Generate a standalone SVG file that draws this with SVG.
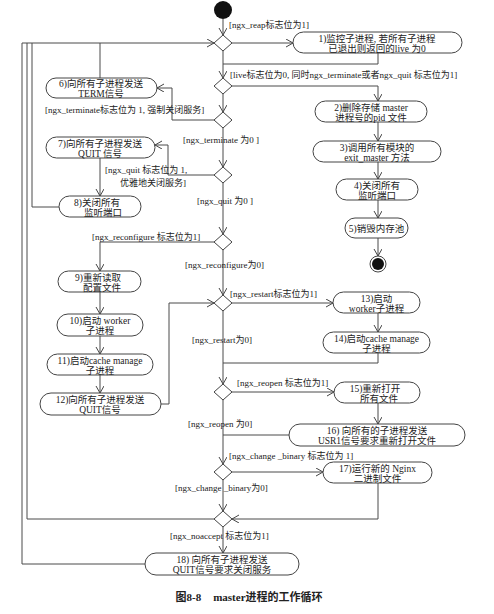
<svg xmlns="http://www.w3.org/2000/svg" width="494" height="614" viewBox="0 0 494 614">
<defs>
<marker id="arr" markerWidth="8" markerHeight="9" refX="7" refY="4" orient="auto" markerUnits="userSpaceOnUse">
<path d="M0,0 L7,4 L0,8" fill="none" stroke="#444" stroke-width="1"/>
</marker>
<style>
.n rect{fill:#fff;stroke:#444;stroke-width:1}
.n text{font-family:"Liberation Serif","Noto Sans CJK SC",serif;font-size:9.5px;fill:#222;text-anchor:middle}
.d{fill:#fff;stroke:#444;stroke-width:1}
.c path{fill:none;stroke:#4a4a4a;stroke-width:1}
.c .a{marker-end:url(#arr)}
.l{font-family:"Liberation Serif","Noto Sans CJK SC",serif;font-size:9px;fill:#222}
.cap{font-family:"Liberation Serif","Noto Sans CJK SC",serif;font-size:11px;font-weight:bold;fill:#222;text-anchor:middle}
</style>
</defs>
<rect width="494" height="614" fill="#fff"/>

<g id="connectors" class="c">
<path class="a" d="M223,19 V35"/>
<path class="a" d="M232,43 H293"/>
<path d="M378,53 V64 H223"/>
<path class="a" d="M223,51 V78"/>
<path class="a" d="M232,86 H378 V101"/>
<path class="a" d="M378,122 V141"/>
<path class="a" d="M378,162 V179"/>
<path class="a" d="M378,200 V218"/>
<path class="a" d="M378,238 V256"/>
<path class="a" d="M223,94 V112"/>
<path class="a" d="M214,120 H172 V88 H157"/>
<path d="M100,78 V43"/>
<path class="a" d="M22,43 H214"/>
<path class="a" d="M223,128 V167"/>
<path class="a" d="M214,175 H168 V145 H155"/>
<path class="a" d="M100,158 V196"/>
<path d="M59,207 H32 V43"/>
<path class="a" d="M223,183 V234"/>
<path class="a" d="M214,242 H100 V271"/>
<path class="a" d="M100,292 V314"/>
<path class="a" d="M100,336 V354"/>
<path class="a" d="M100,375 V393"/>
<path class="a" d="M161,404 H169 V303 H214"/>
<path class="a" d="M223,250 V295"/>
<path class="a" d="M232,303 H333"/>
<path class="a" d="M378,313 V332"/>
<path d="M378,353 V363 H223"/>
<path class="a" d="M223,311 V384"/>
<path class="a" d="M232,392 H334"/>
<path class="a" d="M378,403 V424"/>
<path d="M289,435 H223"/>
<path class="a" d="M223,400 V464"/>
<path class="a" d="M232,472 H323"/>
<path class="a" d="M378,483 V519 H232"/>
<path class="a" d="M223,480 V511"/>
<path d="M214,519 H27 V43"/>
<path class="a" d="M223,527 V553"/>
<path d="M145,564 H22 V43"/>
</g>

<g id="start"><circle cx="223" cy="10" r="9" fill="#111"/></g>
<g id="end"><circle cx="378" cy="264" r="8" fill="#fff" stroke="#444"/><circle cx="378" cy="264" r="6" fill="#111"/></g>

<g id="d1"><polygon class="d" points="223,35 232,43 223,51 214,43"/></g>
<g id="d2"><polygon class="d" points="223,78 232,86 223,94 214,86"/></g>
<g id="d3"><polygon class="d" points="223,112 232,120 223,128 214,120"/></g>
<g id="d4"><polygon class="d" points="223,167 232,175 223,183 214,175"/></g>
<g id="d5"><polygon class="d" points="223,234 232,242 223,250 214,242"/></g>
<g id="d6"><polygon class="d" points="223,295 232,303 223,311 214,303"/></g>
<g id="d7"><polygon class="d" points="223,384 232,392 223,400 214,392"/></g>
<g id="d8"><polygon class="d" points="223,464 232,472 223,480 214,472"/></g>
<g id="d9"><polygon class="d" points="223,511 232,519 223,527 214,519"/></g>

<g id="n1" class="n"><rect x="293" y="32" width="169" height="21" rx="10.5"/><text x="377" y="41.5">1)监控子进程, 若所有子进程</text><text x="377" y="51.5">已退出则返回的live 为0</text></g>
<g id="n2" class="n"><rect x="315" y="101" width="112" height="21" rx="10.5"/><text x="371" y="110.5">2)删除存储 master</text><text x="371" y="120.5">进程号的pid 文件</text></g>
<g id="n3" class="n"><rect x="313" y="141" width="128" height="21" rx="10.5"/><text x="377" y="150.5">3)调用所有模块的</text><text x="377" y="160.5">exit_master 方法</text></g>
<g id="n4" class="n"><rect x="336" y="179" width="82" height="21" rx="10.5"/><text x="377" y="188.5">4)关闭所有</text><text x="377" y="198.5">监听端口</text></g>
<g id="n5" class="n"><rect x="345" y="218" width="63" height="20" rx="10"/><text x="376.5" y="231.5">5)销毁内存池</text></g>
<g id="n6" class="n"><rect x="46" y="78" width="111" height="20" rx="10"/><text x="101" y="87">6)向所有子进程发送</text><text x="101" y="97">TERM信号</text></g>
<g id="n7" class="n"><rect x="46" y="137" width="109" height="21" rx="10.5"/><text x="100" y="146.5">7)向所有子进程发送</text><text x="100" y="156.5">QUIT 信号</text></g>
<g id="n8" class="n"><rect x="59" y="196" width="82" height="21" rx="10.5"/><text x="97" y="205.5">8)关闭所有</text><text x="103" y="215.5">监听端口</text></g>
<g id="n9" class="n"><rect x="58" y="271" width="83" height="21" rx="10.5"/><text x="98" y="280.5">9)重新读取</text><text x="102" y="290.5">配置文件</text></g>
<g id="n10" class="n"><rect x="57" y="314" width="86" height="22" rx="11"/><text x="100" y="323.5">10)启动 worker</text><text x="100" y="334">子进程</text></g>
<g id="n11" class="n"><rect x="47" y="354" width="106" height="21" rx="10.5"/><text x="100" y="363.5">11)启动cache manage</text><text x="100" y="373.5">子进程</text></g>
<g id="n12" class="n"><rect x="40" y="393" width="121" height="22" rx="11"/><text x="100" y="402.5">12)向所有子进程发送</text><text x="100" y="413">QUIT信号</text></g>
<g id="n13" class="n"><rect x="333" y="292" width="87" height="21" rx="10.5"/><text x="376.5" y="301.5">13)启动</text><text x="376.5" y="311.5">worker子进程</text></g>
<g id="n14" class="n"><rect x="323" y="332" width="107" height="21" rx="10.5"/><text x="376.5" y="341.5">14)启动cache manage</text><text x="376.5" y="351.5">子进程</text></g>
<g id="n15" class="n"><rect x="334" y="382" width="86" height="21" rx="10.5"/><text x="375" y="391.5">15)重新打开</text><text x="379" y="401.5">所有文件</text></g>
<g id="n16" class="n"><rect x="289" y="424" width="176" height="22" rx="11"/><text x="377" y="433.5">16) 向所有的子进程发送</text><text x="377" y="444">USR1信号要求重新打开文件</text></g>
<g id="n17" class="n"><rect x="323" y="462" width="109" height="21" rx="10.5"/><text x="377.5" y="471.5">17)运行新的 Nginx</text><text x="377.5" y="481.5">二进制文件</text></g>
<g id="n18" class="n"><rect x="145" y="553" width="154" height="22" rx="11"/><text x="222" y="562.5">18) 向所有子进程发送</text><text x="222" y="573">QUIT信号要求关闭服务</text></g>

<g id="labels">
<text class="l" x="229" y="28">[ngx_reap标志位为1]</text>
<text class="l" x="230" y="78">[live标志位为0, 同时ngx_terminate或者ngx_quit 标志位为1]</text>
<text class="l" x="45" y="113">[ngx_terminate标志位为 1, 强制关闭服务]</text>
<text class="l" x="183" y="143">[ngx_terminate 为0 ]</text>
<text class="l" x="105" y="173">[ngx_quit 标志位为 1,</text>
<text class="l" x="120" y="186">优雅地关闭服务]</text>
<text class="l" x="197" y="204">[ngx_quit 为0 ]</text>
<text class="l" x="92" y="240">[ngx_reconfigure 标志位为1]</text>
<text class="l" x="185" y="268">[ngx_reconfigure为0]</text>
<text class="l" x="230" y="297">[ngx_restart标志位为1]</text>
<text class="l" x="192" y="343">[ngx_restart为0]</text>
<text class="l" x="237" y="386">[ngx_reopen 标志位为1]</text>
<text class="l" x="188" y="427">[ngx_reopen 为0]</text>
<text class="l" x="229" y="459">[ngx_change _binary 标志位为 1]</text>
<text class="l" x="175" y="491">[ngx_change _binary为0]</text>
<text class="l" x="170" y="539">[ngx_noaccept 标志位为1]</text>
</g>

<g id="caption"><text class="cap" x="249" y="601">图8-8<tspan dx="12">master进程的工作循环</tspan></text></g>
</svg>
